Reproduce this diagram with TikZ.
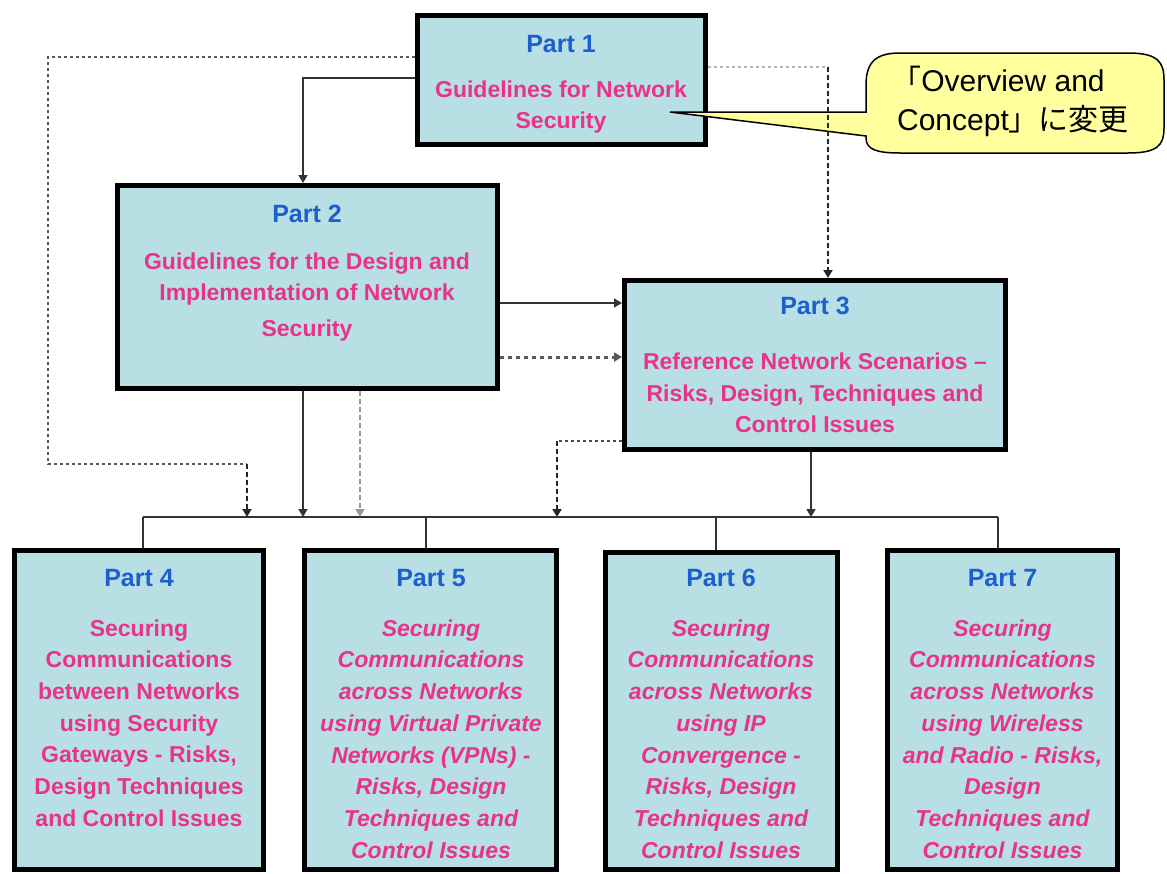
\documentclass[tikz,border=0pt]{standalone}
\usepackage{fontspec}
\setmainfont{Liberation Sans}
\newfontfamily\cjk{Noto Sans CJK JP}
\usetikzlibrary{arrows.meta}

\definecolor{boxfill}{HTML}{B8DFE3}
\definecolor{partblue}{HTML}{1B5FD0}
\definecolor{bodypink}{HTML}{E8338A}
\definecolor{notefill}{HTML}{FFFF9E}

\tikzset{
  box/.style={draw=black, line width=5pt, fill=boxfill, inner sep=0pt},
  lbl/.style={text=partblue, font=\fontsize{25}{30}\selectfont\bfseries, inner sep=0pt},
  body/.style={text=bodypink, font=\fontsize{23}{31.7}\selectfont\bfseries, align=center, inner sep=0pt},
  bodyit/.style={body, font=\fontsize{23}{31.7}\selectfont\bfseries\itshape},
  wire/.style={draw=black!80, line width=1.5pt},
  tip/.style={-{Triangle[width=9pt,length=8pt]}},
  lightdot/.style={draw=gray!70!black, line width=2.5pt, dash pattern=on 3pt off 3pt},
  darkdash/.style={draw=black!85, line width=2.5pt, dash pattern=on 5pt off 3pt},
  notetext/.style={font=\fontsize{30}{39}\selectfont, align=center, inner sep=0pt}
}

\begin{document}
\begin{tikzpicture}[x=1pt,y=-1pt]
\useasboundingbox (0,0) rectangle (1167,873);

% boxes
\node[box, minimum width=288pt, minimum height=129pt] (p1) at (561.5,80) {};
\node[box, minimum width=380pt, minimum height=203pt] (p2) at (307.5,287) {};
\node[box, minimum width=381pt, minimum height=169pt] (p3) at (815,365) {};
\node[box, minimum width=249pt, minimum height=319pt] (p4) at (139,710) {};
\node[box, minimum width=252pt, minimum height=319pt] (p5) at (430.5,710) {};
\node[box, minimum width=232pt, minimum height=317pt] (p6) at (721.5,711) {};
\node[box, minimum width=230pt, minimum height=319pt] (p7) at (1002.5,710) {};

% box texts
\node[lbl] (p1t) at (561,44) {Part 1};
\node[body] (p1b) at (561,107) {Guidelines for Network\\Security};
\node[lbl] (p2t) at (307,214) {Part 2};
\node[body] (p2b) at (307,297) {Guidelines for the Design and\\Implementation of Network\\[4pt]Security};
\node[lbl] (p3t) at (815,306) {Part 3};
\node[body] (p3b) at (815,393) {Reference Network Scenarios --\\Risks, Design, Techniques and\\Control Issues};
\node[lbl] (p4t) at (139,578) {Part 4};
\node[body] (p4b) at (139,723) {Securing\\Communications\\between Networks\\using Security\\Gateways - Risks,\\Design Techniques\\and Control Issues};
\node[lbl] (p5t) at (431,578) {Part 5};
\node[bodyit] (p5b) at (431,739) {Securing\\Communications\\across Networks\\using Virtual Private\\Networks (VPNs) -\\Risks, Design\\Techniques and\\Control Issues};
\node[lbl] (p6t) at (721,578) {Part 6};
\node[bodyit] (p6b) at (721,739) {Securing\\Communications\\across Networks\\using IP\\Convergence -\\Risks, Design\\Techniques and\\Control Issues};
\node[lbl] (p7t) at (1002.5,578) {Part 7};
\node[bodyit] (p7b) at (1002.5,739) {Securing\\Communications\\across Networks\\using Wireless\\and Radio - Risks,\\Design\\Techniques and\\Control Issues};

% note balloon (under the connectors)
\draw[fill=notefill, draw=black, line width=1.5pt]
  (866,112) -- (670,112) -- (866,136) -- (866,138)
  .. controls (866,150) and (878,153) .. (900,153) -- (1128,153)
  .. controls (1158,153) and (1164,145) .. (1164,128) -- (1164,80)
  .. controls (1164,62) and (1158,53) .. (1128,53) -- (900,53)
  .. controls (876,53) and (866,62) .. (866,85) -- cycle;
\node[notetext] (note) at (1013,101) {{\cjk 「}Overview and\hspace*{30pt}\\Concept{\cjk 」に変更}};

% bend points and bus
\coordinate (yA) at (0,57);
\coordinate (yB) at (0,78);
\coordinate (yC) at (0,67);
\coordinate (yD) at (0,303);
\coordinate (yE) at (0,357);
\coordinate (yF) at (0,441);
\coordinate (lA) at (48,57);
\coordinate (lB) at (48,464);
\coordinate (lC) at (247,464);
\coordinate (bus4) at (143,517);
\coordinate (busA) at (247,517);
\coordinate (busB) at (303,517);
\coordinate (busC) at (360,517);
\coordinate (bus5) at (426,517);
\coordinate (busD) at (557,517);
\coordinate (bus6) at (716,517);
\coordinate (busE) at (811,517);
\coordinate (bus7) at (998,517);
\coordinate (rA) at (828,67);
\coordinate (sA) at (303,78);
\coordinate (dA) at (557,441);

% distribution bus
\draw[wire] (bus4) -- (bus7);
\draw[wire] (bus4) -- (bus4 |- p4.north);
\draw[wire] (bus5) -- (bus5 |- p5.north);
\draw[wire] (bus6) -- (bus6 |- p6.north);
\draw[wire] (bus7) -- (bus7 |- p7.north);

% Part 1 links
\draw[wire, tip] (p1.west |- yB) -- (sA) -- (sA |- p2.north);
\draw[lightdot] (p1.west |- yA) -- (lA) -- (lB) -- (lC);
\draw[darkdash, tip] (lC) -- (busA);
\draw[lightdot, draw=gray!60] (p1.east |- yC) -- (rA);
\draw[darkdash, tip] (rA) -- (rA |- p3.north);

% Part 2 links
\draw[wire, tip] (p2.east |- yD) -- (p3.west |- yD);
\draw[draw=black!65, line width=3pt, dash pattern=on 4pt off 4pt, tip] (p2.east |- yE) -- (p3.west |- yE);
\draw[wire, tip] (busB |- p2.south) -- (busB);
\draw[draw=gray!80, line width=2.5pt, dash pattern=on 5pt off 3pt, tip] (busC |- p2.south) -- (busC);

% Part 3 links
\draw[draw=black!70, line width=2.5pt, dash pattern=on 3pt off 3pt] (p3.west |- yF) -- (dA);
\draw[darkdash, tip] (dA) -- (busD);
\draw[wire, tip] (busE |- p3.south) -- (busE);
\end{tikzpicture}
\end{document}
